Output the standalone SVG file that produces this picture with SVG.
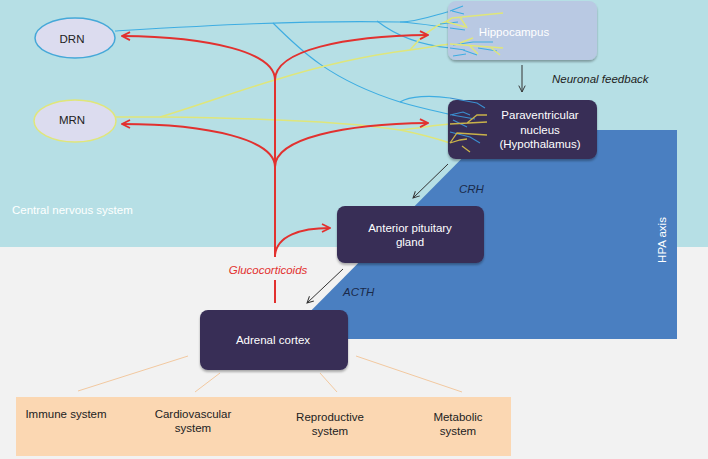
<svg xmlns="http://www.w3.org/2000/svg" width="708" height="459" viewBox="0 0 708 459">
<defs>
<style>
.lbl{font-family:"Liberation Sans",Arial,sans-serif;font-size:11.5px;}
.wt{fill:#ffffff;text-anchor:middle;}
.dk{fill:#222222;text-anchor:middle;}
.it{font-style:italic;}
.red{stroke:#e2312f;stroke-width:2;fill:none;}
.blu{stroke:#3eade2;stroke-width:1.1;fill:none;}
.yel{stroke:#dfe67a;stroke-width:1.5;fill:none;}
.gld{stroke:#c9b24a;stroke-width:1.3;fill:none;}
.bln{stroke:#3b8fd0;stroke-width:1.1;fill:none;}
.blk{stroke:#333333;stroke-width:1;fill:none;}
.pch{stroke:#f3c9a0;stroke-width:1;fill:none;}
.node{fill:#392e57;}
</style>
<marker id="ra" viewBox="0 0 10 10" refX="9" refY="5" markerWidth="5" markerHeight="5" orient="auto" markerUnits="strokeWidth">
<path d="M1,1 L9,5 L1,9" fill="none" stroke="#e2312f" stroke-width="1.8"/>
</marker>
<marker id="ka" viewBox="0 0 10 10" refX="9" refY="5" markerWidth="8" markerHeight="8" orient="auto" markerUnits="strokeWidth">
<path d="M1,1 L9,5 L1,9" fill="none" stroke="#333333" stroke-width="1.2"/>
</marker>
<filter id="sh" x="-10%" y="-10%" width="120%" height="130%">
<feDropShadow dx="0" dy="2" stdDeviation="1.2" flood-color="#000000" flood-opacity="0.3"/>
</filter>
</defs>

<g id="background">
<rect x="0" y="0" width="708" height="459" fill="#f2f2f2"/>
<rect x="0" y="0" width="708" height="247" fill="#b6dfe5"/>
<polygon points="490,130 677,130 677,339 283,339" fill="#4a7fc1"/>
<text class="lbl" x="12" y="214" fill="#ffffff">Central nervous system</text>
<text class="lbl" x="0" y="0" fill="#ffffff" text-anchor="middle" transform="translate(666,240) rotate(-90)">HPA axis</text>
<rect x="16" y="397" width="495" height="59" fill="#fbd7b2"/>
</g>

<g id="connectors">
<!-- neuronal projections -->
<path class="blu" d="M115,31 C200,26 300,20 400,22 C420,22 440,13 452,11"/>
<path class="blu" d="M400,22 C420,23 440,27 450,28"/>
<path class="blu" d="M377,21 C395,35 420,45 450,48"/>
<path class="blu" d="M273,23 C300,50 330,80 400,102 C420,108 440,112 452,115"/>
<path class="blu" d="M400,102 C410,96 430,95 450,98"/>
<path class="yel" d="M116,117 L160,117 C200,105 240,90 275,80 C320,66 370,55 410,50 C425,48 440,45 450,44"/>
<path class="yel" d="M410,50 C418,40 430,28 447,21"/>
<path class="yel" d="M160,117 C250,118 350,122 400,130 C420,134 438,139 450,143"/>
<path class="yel" d="M400,130 C420,128 435,125 450,124"/>
<!-- glucocorticoid feedback -->
<path class="red" d="M275,257 L275,80"/>
<path class="red" d="M275,303 L275,280"/>
<path class="red" marker-end="url(#ra)" d="M275,80 C275,52 210,37 122,36"/>
<path class="red" marker-end="url(#ra)" d="M275,80 C275,50 345,36 428,35"/>
<path class="red" marker-end="url(#ra)" d="M275,167 C275,140 210,124 122,124"/>
<path class="red" marker-end="url(#ra)" d="M275,167 C275,138 345,124 428,123"/>
<path class="red" marker-end="url(#ra)" d="M275,255 C277,236 300,228 330,228"/>
<!-- HPA arrows -->
<path class="blk" marker-end="url(#ka)" d="M522,65 L522,92"/>
<path class="blk" marker-end="url(#ka)" d="M448,164 L413,198"/>
<path class="blk" marker-end="url(#ka)" d="M343,269 L307,303"/>
<!-- adrenal to systems -->
<path class="pch" d="M188,356 L78,391"/>
<path class="pch" d="M220,373 L195,392"/>
<path class="pch" d="M320,373 L337,392"/>
<path class="pch" d="M356,356 L462,392"/>
</g>

<g id="labels">
<text class="lbl it" x="552" y="83" fill="#222222">Neuronal feedback</text>
<text class="lbl it" x="459" y="193" fill="#1a2a4a">CRH</text>
<text class="lbl it" x="343" y="296" fill="#1a2a4a">ACTH</text>
<text class="lbl it" x="268" y="274" fill="#e2312f" text-anchor="middle">Glucocorticoids</text>
</g>

<g id="DRN">
<ellipse cx="75" cy="38" rx="40" ry="20" fill="#dcdcef" stroke="#45a8d8" stroke-width="1.5"/>
<text class="lbl" x="72" y="43" fill="#222222" text-anchor="middle">DRN</text>
</g>
<g id="MRN">
<ellipse cx="75" cy="121" rx="41" ry="21" fill="#dcdcef" stroke="#e0e67a" stroke-width="1.5"/>
<text class="lbl" x="72" y="124" fill="#222222" text-anchor="middle">MRN</text>
</g>
<g id="hippocampus">
<rect x="448" y="1" width="149" height="59" rx="8" fill="#b9c9e3" filter="url(#sh)"/>
<path class="blu" d="M450,11 L463,6 M452,11 L464,14 M440,24 L458,22 M450,28 L465,30 M450,48 L465,50 M453,45 L473,42 L493,42 M463,50 L477,55 M453,56 L466,54 M478,48 L497,51"/>
<path class="yel" d="M447,21 L452,18 L503,13 M460,17 L467,28 M447,22 L465,27 M450,44 L503,48 M460,43 L473,38 M490,47 L500,55 M470,46 L478,54"/>
<text class="lbl wt" x="514" y="36">Hippocampus</text>
</g>
<g id="pvn">
<rect class="node" x="448" y="100" width="149" height="59" rx="8" filter="url(#sh)"/>
<path class="bln" d="M450,98 L477,103 L485,108 M450,115 L463,112 L470,115 M453,120 L467,127 M450,132 L470,137 L480,143 M452,115 L475,119"/>
<path class="gld" d="M450,124 L487,122 M467,123 L477,115 L487,115 M450,143 L457,133 L487,135 M450,143 L460,140 L467,139 M462,146 L470,152"/>
<text class="lbl wt" x="540" y="119">Paraventricular</text>
<text class="lbl wt" x="540" y="134">nucleus</text>
<text class="lbl wt" x="540" y="148">(Hypothalamus)</text>
</g>
<g id="pituitary">
<rect class="node" x="337" y="206" width="147" height="57" rx="8" filter="url(#sh)"/>
<text class="lbl wt" x="410" y="232">Anterior pituitary</text>
<text class="lbl wt" x="410" y="246">gland</text>
</g>
<g id="adrenal">
<rect class="node" x="200" y="310" width="148" height="60" rx="8" filter="url(#sh)"/>
<text class="lbl wt" x="273" y="344">Adrenal cortex</text>
</g>
<g id="immune"><text class="lbl dk" x="66" y="418">Immune system</text></g>
<g id="cardio"><text class="lbl dk" x="193" y="418">Cardiovascular</text><text class="lbl dk" x="193" y="432">system</text></g>
<g id="repro"><text class="lbl dk" x="330" y="421">Reproductive</text><text class="lbl dk" x="330" y="435">system</text></g>
<g id="metab"><text class="lbl dk" x="458" y="421">Metabolic</text><text class="lbl dk" x="458" y="435">system</text></g>
</svg>
